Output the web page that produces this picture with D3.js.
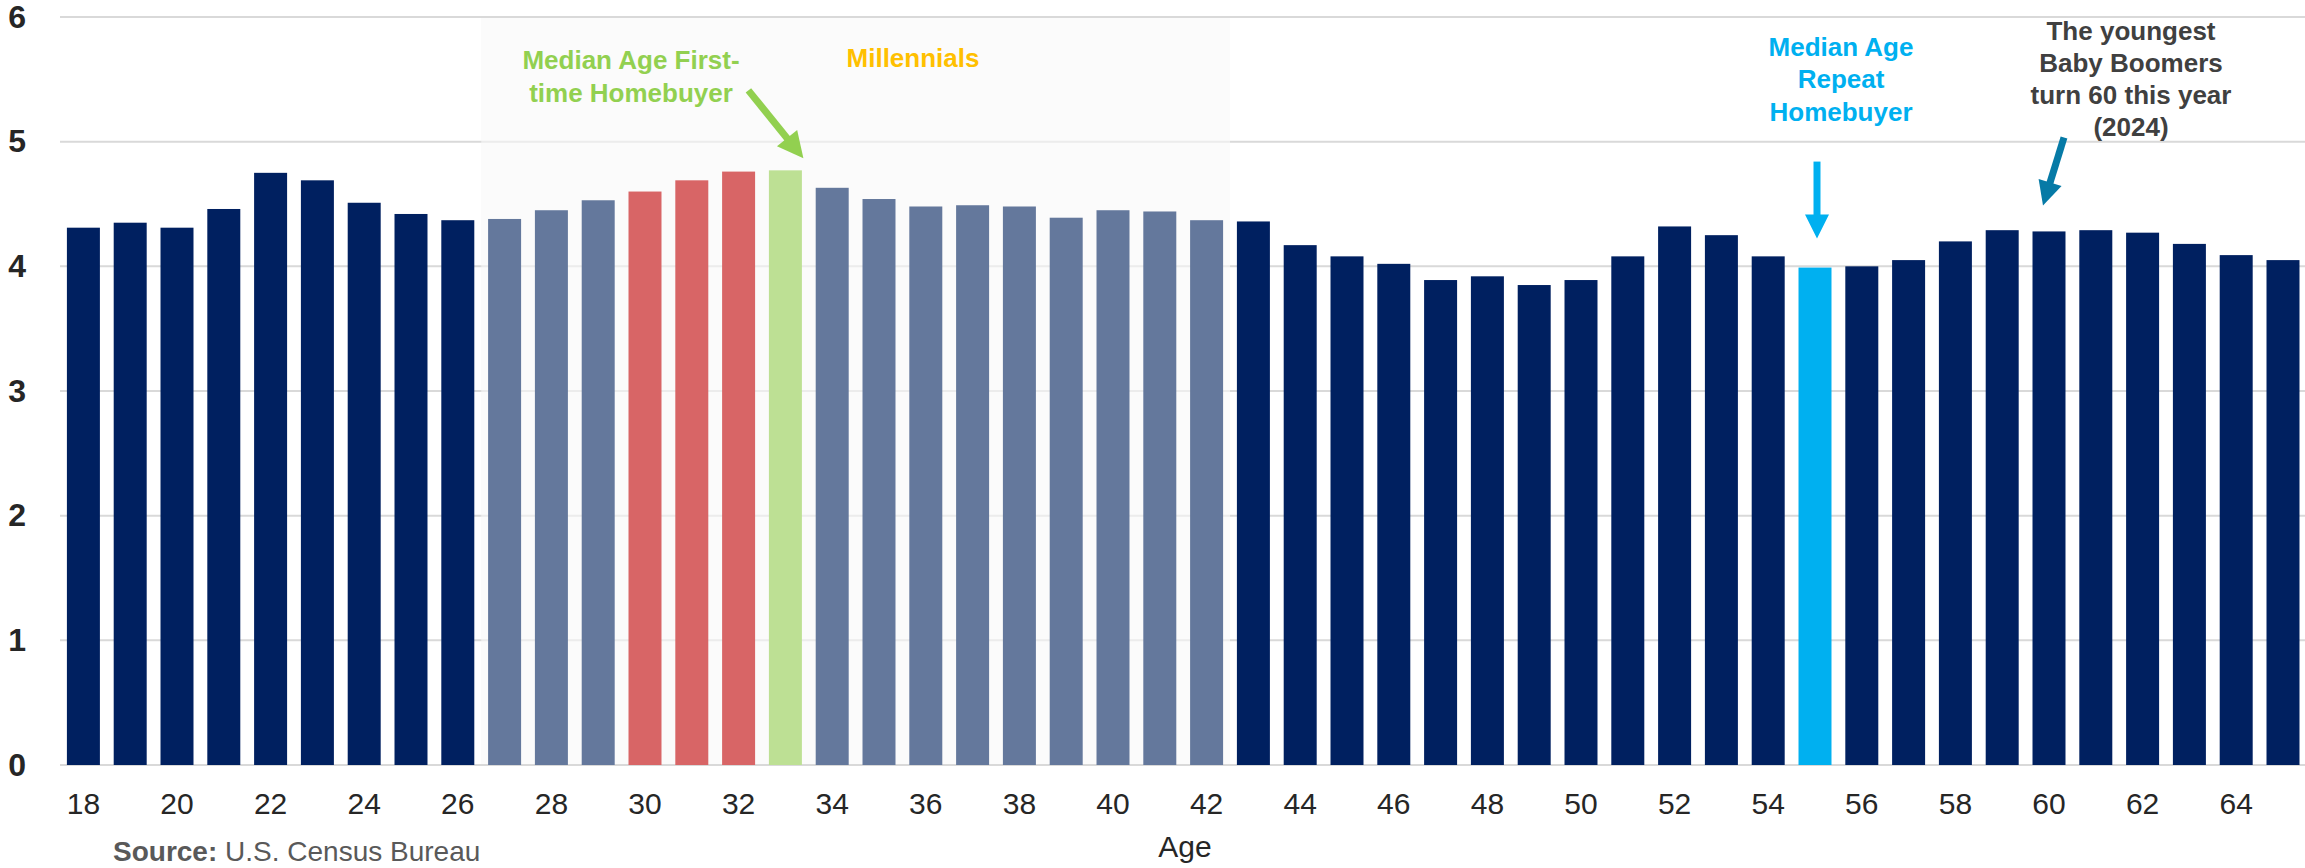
<!DOCTYPE html>
<html>
<head>
<meta charset="utf-8">
<script src="https://cdn.jsdelivr.net/npm/d3@7"></script>
<style>
  html, body { margin: 0; padding: 0; background: #ffffff; }
  svg { display: block; font-family: "Liberation Sans", Arial, sans-serif; }
</style>
</head>
<body>
<svg id="chart" width="2305" height="868"></svg>
<script>
// ---- data ----
const ages = [18,19,20,21,22,23,24,25,26,27,28,29,30,31,32,33,34,35,36,37,38,39,40,41,
              42,43,44,45,46,47,48,49,50,51,52,53,54,55,56,57,58,59,60,61,62,63,64,65];
const values = [4.31,4.35,4.31,4.46,4.75,4.69,4.51,4.42,4.37,4.38,4.45,4.53,4.60,4.69,4.76,4.77,
                4.63,4.54,4.48,4.49,4.48,4.39,4.45,4.44,4.37,4.36,4.17,4.08,4.02,3.89,3.92,3.85,
                3.89,4.08,4.32,4.25,4.08,3.99,4.00,4.05,4.20,4.29,4.28,4.29,4.27,4.18,4.09,4.05];
const yTicks = [0,1,2,3,4,5,6];
const xTickLabels = ages.filter(a => a % 2 === 0);
const millennialAges = [27, 42];
const firstTimeAges = [30, 31, 32];
const medianFirstAge = 33;
const medianRepeatAge = 55;
const boomerAge = 60;

// ---- styles ----
const C = {
  navy: "#002060", slate: "#64789c", red: "#d86566", green: "#bde094",
  cyan: "#00b0f0", greenText: "#92d050", gold: "#ffc000", teal: "#067aa6",
  grid: "#d9d9d9", text: "#262626", gray: "#404040", shade: "#f8f8f8"
};
function colorFor(age) {
  if (age === medianFirstAge) return C.green;
  if (age === medianRepeatAge) return C.cyan;
  if (firstTimeAges.includes(age)) return C.red;
  if (age >= millennialAges[0] && age <= millennialAges[1]) return C.slate;
  return C.navy;
}

const svg = d3.select("#chart");
const data = ages.map((a, i) => ({ age: a, value: values[i] }));

const x = d3.scaleBand().domain(ages).range([60, 2306.4]).paddingInner(0.295).paddingOuter(0.1475);
const y = d3.scaleLinear().domain([0, 6]).range([765, 17]);
const bw = x.bandwidth();
const gap = x.step() - bw;

// gridlines
svg.append("g").selectAll("line").data(yTicks).join("line")
  .attr("x1", 60).attr("x2", 2305)
  .attr("y1", d => y(d)).attr("y2", d => y(d))
  .attr("stroke", C.grid).attr("stroke-width", 2);

// millennial shaded band
svg.append("rect")
  .attr("x", x(millennialAges[0]) - gap / 2)
  .attr("y", y(6) + 1)
  .attr("width", x(millennialAges[1]) + bw + gap / 2 - (x(millennialAges[0]) - gap / 2))
  .attr("height", y(0) - y(6) - 2)
  .attr("fill", C.shade).attr("fill-opacity", 0.6);

// bars
svg.append("g").selectAll("rect").data(data).join("rect")
  .attr("x", d => x(d.age)).attr("width", bw)
  .attr("y", d => y(d.value)).attr("height", d => y(0) - y(d.value))
  .attr("fill", d => colorFor(d.age));

// y axis labels
const yAxis = d3.axisLeft(y).tickValues(yTicks).tickSize(0).tickPadding(0).tickFormat(d3.format("d"));
const gy = svg.append("g").attr("transform", "translate(26,0)").call(yAxis);
gy.select(".domain").remove();
gy.selectAll("text").attr("font-size", 32).attr("font-weight", "bold")
  .attr("fill", C.text).attr("font-family", "Liberation Sans, Arial, sans-serif");

// x axis labels
const xAxis = d3.axisBottom(x).tickValues(xTickLabels).tickSize(0).tickPadding(0);
const gx = svg.append("g").attr("transform", `translate(0,${y(0)})`).call(xAxis);
gx.select(".domain").remove();
gx.selectAll("text").attr("font-size", 30).attr("fill", C.text).attr("dy", null).attr("y", 49)
  .attr("font-family", "Liberation Sans, Arial, sans-serif");

// axis title
svg.append("text").attr("x", 1185).attr("y", 857).attr("text-anchor", "middle")
  .attr("font-size", 30).attr("fill", C.text).text("Age");

// source
const src = svg.append("text").attr("x", 113).attr("y", 861).attr("font-size", 28).attr("fill", "#595959");
src.append("tspan").attr("font-weight", "bold").text("Source:");
src.append("tspan").text(" U.S. Census Bureau");

// annotation helper
function multiline(lines, cx, y0, lh, color, anchor) {
  const t = svg.append("text").attr("font-size", 26).attr("font-weight", "bold")
    .attr("fill", color).attr("text-anchor", anchor || "middle");
  lines.forEach((l, i) => t.append("tspan").attr("x", cx).attr("y", y0 + i * lh).text(l));
}
function arrow(x1, y1, x2, y2, color, sw, hw, hl) {
  const dx = x2 - x1, dy = y2 - y1, len = Math.hypot(dx, dy);
  const ux = dx / len, uy = dy / len, px = -uy, py = ux;
  const bx = x2 - ux * hl, by = y2 - uy * hl;
  svg.append("line").attr("x1", x1).attr("y1", y1).attr("x2", bx + ux * 2).attr("y2", by + uy * 2)
    .attr("stroke", color).attr("stroke-width", sw);
  svg.append("path")
    .attr("d", `M${x2},${y2}L${bx + px * hw / 2},${by + py * hw / 2}L${bx - px * hw / 2},${by - py * hw / 2}Z`)
    .attr("fill", color);
}

const cx = a => x(a) + bw / 2;
const vOf = a => values[ages.indexOf(a)];

// first-time homebuyer
multiline(["Median Age First-", "time Homebuyer"], 631, 69, 32.5, C.greenText);
arrow(cx(medianFirstAge) - 37, y(vOf(medianFirstAge)) - 80,
      cx(medianFirstAge) + 18, y(vOf(medianFirstAge)) - 12, C.greenText, 7, 26, 26);

// millennials
multiline(["Millennials"], 913, 67, 32, C.gold);

// repeat homebuyer
multiline(["Median Age", "Repeat", "Homebuyer"], 1841, 56, 32.3, C.cyan);
arrow(cx(medianRepeatAge) + 2, y(vOf(medianRepeatAge)) - 106,
      cx(medianRepeatAge) + 2, y(vOf(medianRepeatAge)) - 29, C.cyan, 7, 24, 24);

// baby boomers
multiline(["The youngest", "Baby Boomers", "turn 60 this year", "(2024)"], 2131, 39.5, 32, C.gray);
arrow(cx(boomerAge) + 15, y(vOf(boomerAge)) - 94,
      cx(boomerAge) - 6, y(vOf(boomerAge)) - 26, C.teal, 7, 24, 24);
</script>
</body>
</html>
